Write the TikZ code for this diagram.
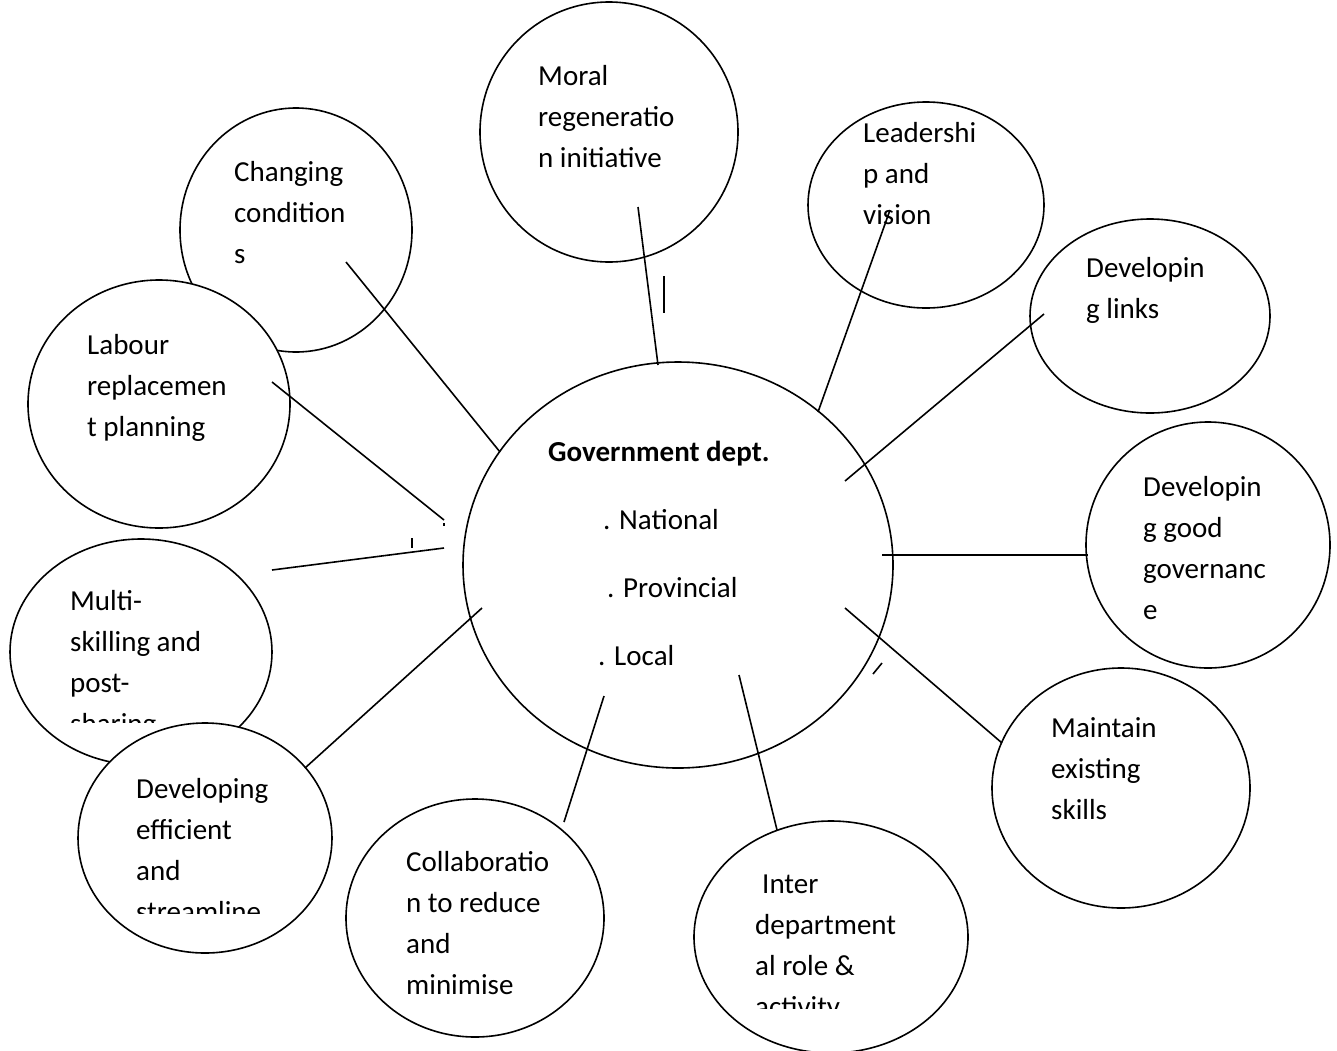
\documentclass[tikz,border=0pt]{standalone}
\usepackage{fontspec}
\setmainfont{Carlito}
\usetikzlibrary{shapes.geometric}
\begin{document}
\begin{tikzpicture}[x=1pt,y=-1pt,
  bub/.style={draw, ellipse, fill=white, line width=1.6pt, inner sep=0pt, outer sep=0pt},
  lbl/.style={anchor=north west, inner sep=0pt, align=left, font=\fontsize{29}{41}\selectfont},
  glbl/.style={anchor=base west, inner sep=0pt, font=\fontsize{29}{41}\selectfont},
  conn/.style={line width=1.6pt},
  tickmark/.style={line width=1.6pt}]
\useasboundingbox (0,0) rectangle (1337,1050);
% bubbles and their texts
\node[bub, minimum width=232pt, minimum height=244pt] (chg) at (296,230) {};
\node[lbl] (chgT) at (234,152.3) {\strut Changing\\condition\\s};
\node[bub, minimum width=262pt, minimum height=248pt] (labour) at (159,404) {};
\node[lbl] (labourT) at (87,325.3) {\strut Labour\\replacemen\\t planning};
\node[bub, minimum width=258pt, minimum height=260pt] (moral) at (609,132) {};
\node[lbl] (moralT) at (538,56.3) {\strut Moral\\regeneratio\\n initiative};
\node[bub, minimum width=236pt, minimum height=206pt] (lead) at (926,205) {};
\node[lbl] (leadT) at (863,113.3) {\strut Leadershi\\p and\\vision};
\node[bub, minimum width=240pt, minimum height=194pt] (links) at (1150,316) {};
\node[lbl] (linksT) at (1086,248.3) {\strut Developin\\g links};
\node[bub, minimum width=244pt, minimum height=246pt] (govn) at (1208,545) {};
\node[lbl] (govnT) at (1143,467.3) {\strut Developin\\g good\\governanc\\e};
\node[bub, minimum width=258pt, minimum height=240pt] (maint) at (1121,788) {};
\node[lbl] (maintT) at (1051,708.3) {\strut Maintain\\existing\\skills};
\node[bub, minimum width=262pt, minimum height=226pt] (multi) at (141,652) {};
\begin{scope}
  \clip (40,560) rectangle (270,722);
  \node[lbl] (multiT) at (70,581.3) {\strut Multi-\\skilling and\\post-\\sharing};
\end{scope}
\node[bub, minimum width=254pt, minimum height=230pt] (eff) at (205,838) {};
\begin{scope}
  \clip (100,750) rectangle (330,913);
  \node[lbl] (effT) at (136,769.3) {\strut Developing\\efficient\\and\\streamline};
\end{scope}
\node[bub, minimum width=258pt, minimum height=238pt] (collab) at (475,918) {};
\node[lbl] (collabT) at (406,842.3) {\strut Collaboratio\\n to reduce\\and\\minimise};
\node[bub, minimum width=274pt, minimum height=232pt] (inter) at (831,937) {};
\begin{scope}
  \clip (720,840) rectangle (960,1008);
  \node[lbl] (interT) at (755,864.3) {\strut\hspace*{7pt}Inter\\department\\al role \&\\activity};
\end{scope}
% central bubble
\node[bub, minimum width=430pt, minimum height=406pt] (gov) at (678,565) {};
\node[glbl, font=\fontsize{29}{41}\selectfont\bfseries] (govT) at (548,461) {Government dept.};
\node[glbl] (natT) at (603,529) {. National};
\node[glbl] (provT) at (607,597) {. Provincial};
\node[glbl] (locT) at (598,665) {. Local};
% connector end points
\coordinate (m1) at (638,207);  \coordinate (m2) at (658,365);
\coordinate (l1) at (890,210);  \coordinate (l2) at (818,412);
\coordinate (c1) at (346,262);  \coordinate (c2) at (500,452);
\coordinate (b1) at (272,382);  \coordinate (b2) at (444,520);
\coordinate (s1) at (272,570);  \coordinate (s2) at (444,548);
\coordinate (k1) at (1044,314); \coordinate (k2) at (845,481);
\coordinate (g1) at (1088,555); \coordinate (g2) at (882,555);
\coordinate (x1) at (1002,743); \coordinate (x2) at (845,608);
\coordinate (e1) at (305,768);  \coordinate (e2) at (482,608);
\coordinate (o1) at (564,822);  \coordinate (o2) at (604,696);
\coordinate (i1) at (777,830);  \coordinate (i2) at (739,675);
\draw[conn] (m1) -- (m2);
\draw[conn] (l1) -- (l2);
\draw[conn] (c1) -- (c2);
\draw[conn] (b1) -- (b2);
\draw[conn] (s1) -- (s2);
\draw[conn] (k1) -- (k2);
\draw[conn] (g1) -- (g2);
\draw[conn] (x1) -- (x2);
\draw[conn] (e1) -- (e2);
\draw[conn] (o1) -- (o2);
\draw[conn] (i1) -- (i2);
% small stray marks
\coordinate (t1a) at (664,276); \coordinate (t1b) at (664,313);
\coordinate (t2a) at (412,538); \coordinate (t2b) at (412,548);
\coordinate (t3a) at (873,674); \coordinate (t3b) at (882,663);
\coordinate (t4a) at (444,523); \coordinate (t4b) at (444,526);
\draw[tickmark] (t1a) -- (t1b);
\draw[tickmark] (t2a) -- (t2b);
\draw[tickmark] (t3a) -- (t3b);
\draw[tickmark] (t4a) -- (t4b);
\end{tikzpicture}
\end{document}
